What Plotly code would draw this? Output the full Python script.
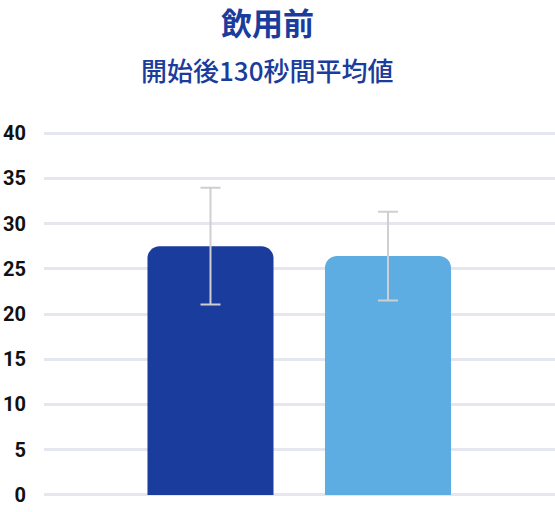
import plotly.graph_objects as go

# data
groups = ["A", "B"]
means = [27.5, 26.4]
errs = [6.45, 4.9]
bar_colors = ["#1a3c9c", "#5dade2"]
y_ticks = [0, 5, 10, 15, 20, 25, 30, 35, 40]

title = "飲用前"
subtitle = "開始後130秒間平均値"

fig = go.Figure()
fig.add_trace(go.Bar(
    x=[0, 1],
    y=means,
    width=0.71,
    marker=dict(color=bar_colors, cornerradius=12, line=dict(width=0)),
    error_y=dict(type="data", array=errs, visible=True,
                 color="#cfcfcf", thickness=2, width=10),
    hoverinfo="skip",
))

fig.update_layout(
    width=555, height=512,
    margin=dict(l=44, r=0, t=132, b=16),
    paper_bgcolor="white", plot_bgcolor="white",
    showlegend=False,
    font=dict(family="Noto Sans CJK JP"),
)
fig.update_xaxes(range=[-0.938, 1.941], showgrid=False, zeroline=False,
                 showticklabels=False, showline=False)
# pad the range a hair so the 0 and 40 grid lines get drawn
fig.update_yaxes(range=[-0.12, 40.12], tickvals=y_ticks, showgrid=True,
                 gridcolor="#e4e7f0", gridwidth=3, zeroline=False,
                 showline=False, ticks="", ticklabelstandoff=17,
                 tickfont=dict(family="Roboto", size=20, color="#111111", weight="bold"))

# title + subtitle as annotations
fig.add_annotation(text="<b>" + title + "</b>", xref="paper", yref="paper",
                   x=0.438, y=1, yshift=111, showarrow=False,
                   font=dict(family="Noto Sans CJK JP", size=31, color="#1a3c9c"),
                   xanchor="center", yanchor="middle")
fig.add_annotation(text=subtitle, xref="paper", yref="paper",
                   x=0.436, y=1, yshift=63, showarrow=False,
                   font=dict(family="Noto Sans CJK JP", size=26, color="#1a3c9c", weight=500),
                   xanchor="center", yanchor="middle")

fig.write_html("out.html", config={"displayModeBar": False},
               post_script="document.body.style.margin='0';")
